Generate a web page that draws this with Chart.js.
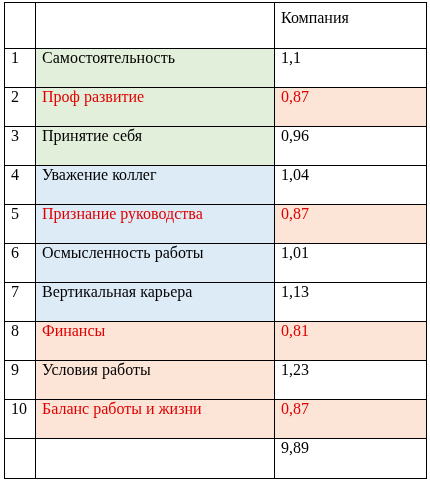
<!DOCTYPE html>
<html>
<head>
<meta charset="utf-8">
<script src="https://cdn.jsdelivr.net/npm/chart.js@4/dist/chart.umd.min.js"></script>
<style>
  html, body { margin: 0; padding: 0; background: #fff; }
  #wrap { width: 430px; height: 481px; }
</style>
</head>
<body>
<div id="wrap"><canvas id="tableChart"></canvas></div>
<script>
// data
const header = 'Компания';
const categories = ['Самостоятельность', 'Проф развитие', 'Принятие себя', 'Уважение коллег',
  'Признание руководства', 'Осмысленность работы', 'Вертикальная карьера', 'Финансы',
  'Условия работы', 'Баланс работы и жизни'];
const values = ['1,1', '0,87', '0,96', '1,04', '0,87', '1,01', '1,13', '0,81', '1,23', '0,87'];
const total = '9,89';
const redRows = [1, 4, 7, 9];

// layout (pixel units of the scales)
const colEdges = [4, 35, 274, 426];
const rowLines = [2, 48, 87, 126, 165, 204, 243, 282, 321, 360, 399, 438, 478];

// cell shading: [col, firstRow, lastRow, colour] (row indices into rowLines)
const GREEN = '#e2efda', BLUE = '#ddebf7', PEACH = '#fce4d6';
const fills = [
  [1, 1, 3, GREEN], [1, 4, 7, BLUE],
  [2, 2, 2, PEACH], [2, 5, 5, PEACH],
  [1, 8, 10, PEACH], [2, 8, 8, PEACH], [2, 10, 10, PEACH]
];

const tablePlugin = {
  id: 'table',
  afterDraw(chart) {
    const ctx = chart.ctx, x = chart.scales.x, y = chart.scales.y;
    const px = v => x.getPixelForValue(v), py = v => y.getPixelForValue(v);
    ctx.save();
    fills.forEach(([c, r0, r1, col]) => {
      ctx.fillStyle = col;
      const y0 = py(rowLines[r0]), y1 = py(rowLines[r1 + 1]);
      ctx.fillRect(px(colEdges[c]), y0, px(colEdges[c + 1]) - px(colEdges[c]), y1 - y0);
    });
    ctx.strokeStyle = '#000';
    ctx.lineWidth = 1;
    ctx.beginPath();
    rowLines.forEach(r => {
      ctx.moveTo(px(colEdges[0]), Math.round(py(r)) + 0.5);
      ctx.lineTo(px(colEdges[3]) + 1, Math.round(py(r)) + 0.5);
    });
    colEdges.forEach(c => {
      ctx.moveTo(Math.round(px(c)) + 0.5, py(rowLines[0]));
      ctx.lineTo(Math.round(px(c)) + 0.5, py(rowLines[rowLines.length - 1]));
    });
    ctx.stroke();

    ctx.font = '16px "Liberation Serif", "Times New Roman", serif';
    ctx.textBaseline = 'alphabetic';
    const text = (s, c, r, colr) => {
      ctx.fillStyle = colr;
      ctx.fillText(s, px(colEdges[c]) + 7, py(rowLines[r]) + 15);
    };
    ctx.fillStyle = '#000';
    ctx.fillText(header, px(colEdges[2]) + 7, py(rowLines[0]) + 21);
    categories.forEach((cat, i) => {
      const red = redRows.includes(i) ? '#e00000' : '#000';
      text(String(i + 1), 0, i + 1, '#000');
      text(cat, 1, i + 1, red);
      text(values[i], 2, i + 1, red);
    });
    text(total, 2, 11, '#000');
    ctx.restore();
  }
};

new Chart(document.getElementById('tableChart').getContext('2d'), {
  type: 'scatter',
  data: { datasets: [{ data: [] }] },
  options: {
    responsive: true,
    maintainAspectRatio: false,
    animation: false,
    layout: { padding: 0 },
    plugins: { legend: { display: false }, tooltip: { enabled: false } },
    scales: {
      x: { type: 'linear', min: 0, max: 430, display: false },
      y: { type: 'linear', min: 0, max: 481, reverse: true, display: false }
    }
  },
  plugins: [tablePlugin]
});
</script>
</body>
</html>
